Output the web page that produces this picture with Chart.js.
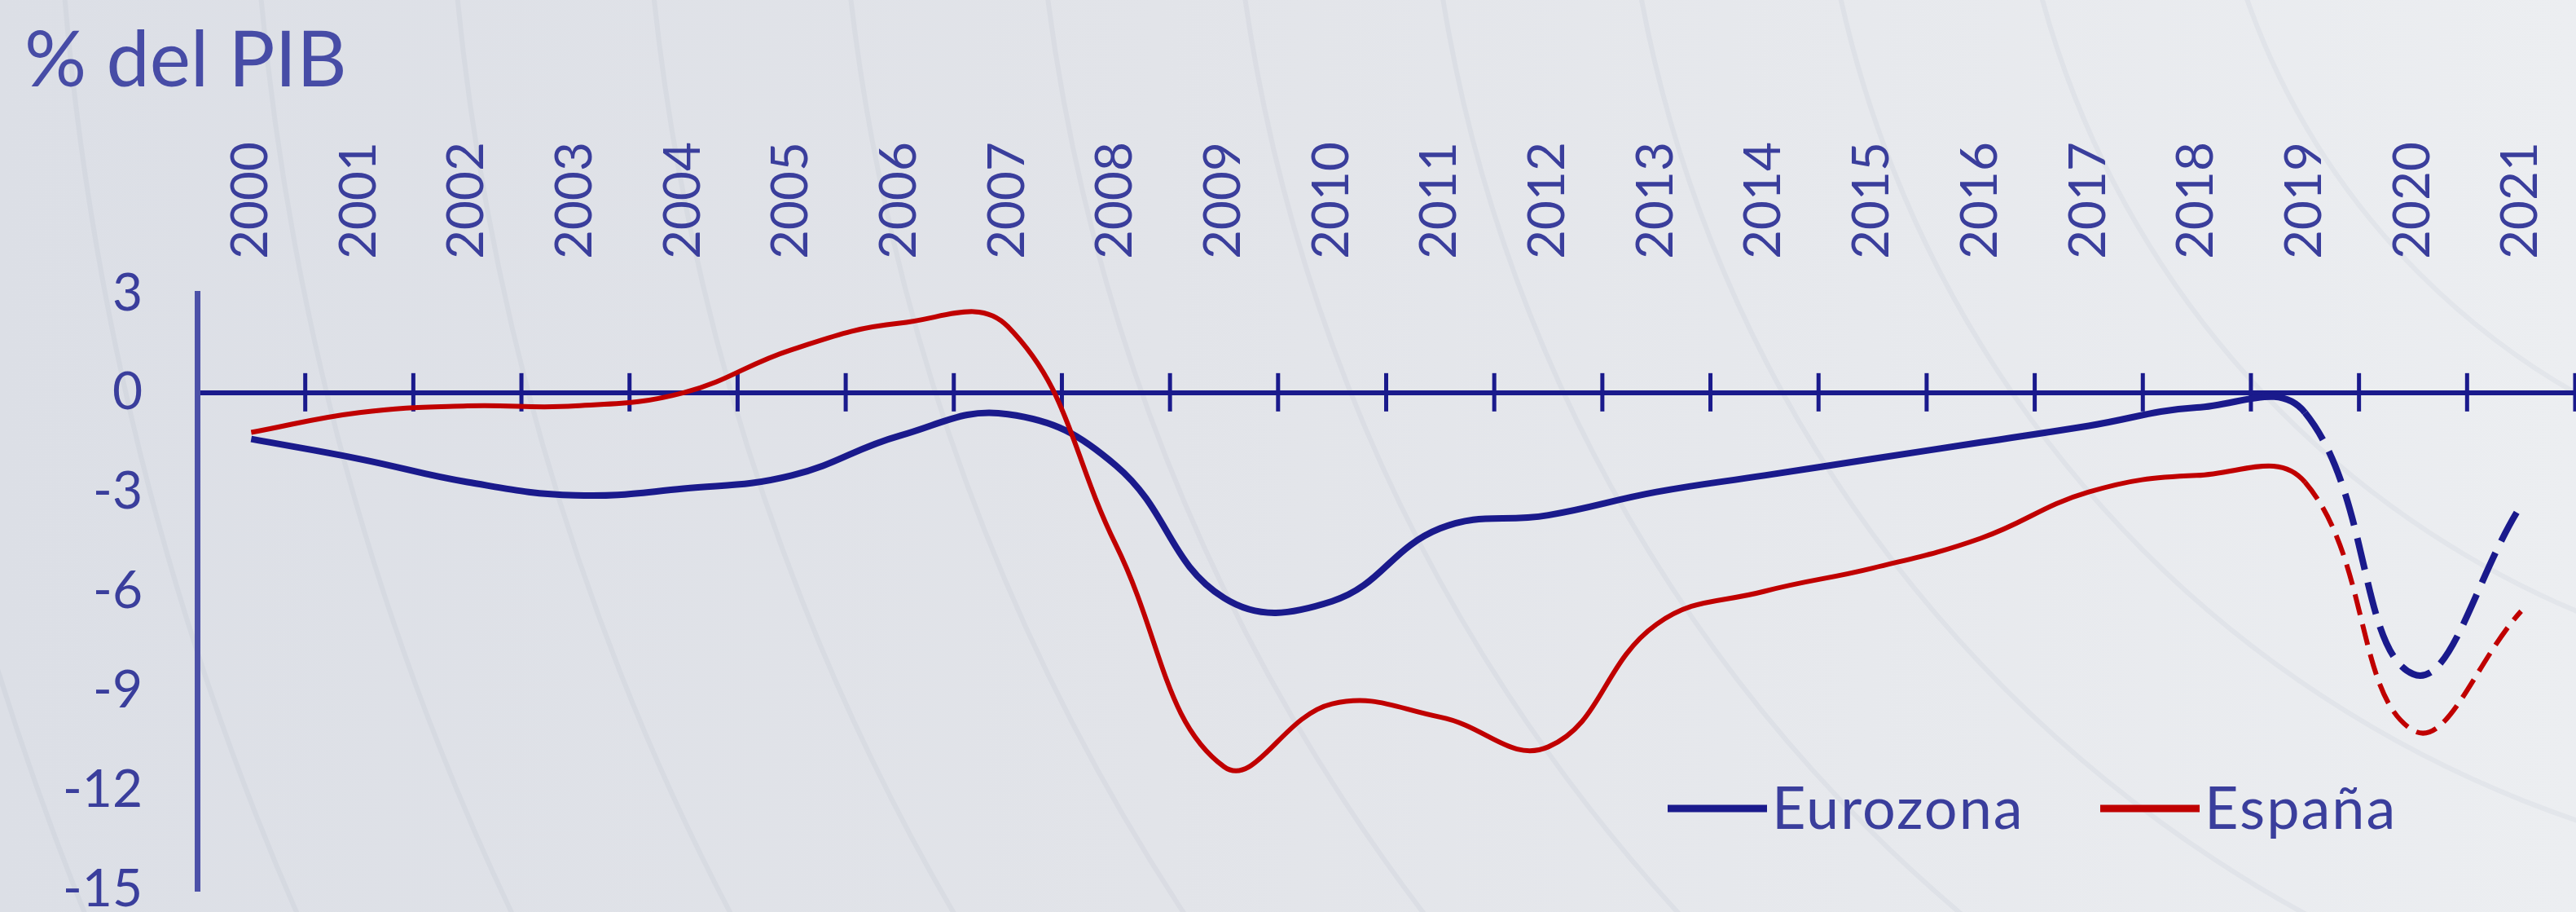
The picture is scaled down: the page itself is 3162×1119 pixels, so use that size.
<!DOCTYPE html>
<html lang="es">
<head>
  <meta charset="UTF-8">
  <title>Saldo público: Eurozona y España</title>
  <script src="https://cdn.jsdelivr.net/npm/chart.js"></script>
  <style>
    html, body {
      margin: 0;
      padding: 0;
    }
    body {
      width: 3162px;
      height: 1119px;
      overflow: hidden;
      background: #e3e5ea;
      font-family: Lato, "Open Sans", sans-serif;
    }
    .wrap {
      position: relative;
      width: 3162px;
      height: 1119px;
    }
    .unit {
      position: absolute;
      left: 30px;
      top: 22px;
      font-size: 95px;
      line-height: 1;
      color: #474ca6;
      z-index: 2;
    }
  </style>
</head>
<body>
  <div class="wrap">
    <div class="unit">% del PIB</div>
    <canvas id="deficitChart"></canvas>
  </div>

  <script>
    // Data
    const years = ['2000', '2001', '2002', '2003', '2004', '2005', '2006', '2007', '2008', '2009', '2010',
                   '2011', '2012', '2013', '2014', '2015', '2016', '2017', '2018', '2019', '2020', '2021'];
    const eurozona = [-1.4, -2.0, -2.7, -3.1, -2.9, -2.5, -1.3, -0.65, -2.2, -6.2, -6.3,
                      -4.1, -3.7, -3.0, -2.5, -2.0, -1.5, -1.0, -0.45, -0.6, -8.5, -3.4];
    const espana = [-1.2, -0.6, -0.4, -0.4, 0.0, 1.3, 2.1, 2.0, -4.6, -11.3, -9.4,
                    -9.8, -10.7, -7.0, -6.0, -5.3, -4.4, -3.0, -2.5, -2.7, -10.2, -6.6];
    const yTicks = [3, 0, -3, -6, -9, -12, -15];
    const forecastFrom = 19; // 2019 -> 2021 drawn dashed

    const navy = '#1a1a8c';
    const red = '#c00000';
    const textColor = '#3a3e9c';

    // slide background: soft gradient with faint arcs
    const slideBackground = {
      id: 'slideBackground',
      beforeDraw(chart) {
        const { ctx, width, height } = chart;
        ctx.save();
        const g = ctx.createLinearGradient(0, 0, width, 0);
        g.addColorStop(0, '#dcdfe6');
        g.addColorStop(0.45, '#e2e4e9');
        g.addColorStop(1, '#eceef1');
        ctx.fillStyle = g;
        ctx.fillRect(0, 0, width, height);
        ctx.strokeStyle = 'rgba(120, 130, 150, 0.07)';
        ctx.lineWidth = 6;
        for (let r = 900; r <= 4300; r += 240) {
          ctx.beginPath();
          ctx.arc(3607, -300, r, 0, Math.PI);
          ctx.stroke();
        }
        ctx.restore();
      }
    };

    // ticks crossing the zero line, at the category boundaries
    const zeroTicks = {
      id: 'zeroTicks',
      beforeDatasetsDraw(chart) {
        const xs = chart.scales.x, ys = chart.scales.y;
        const ctx = chart.ctx;
        const step = xs.getPixelForValue(1) - xs.getPixelForValue(0);
        const y0 = ys.getPixelForValue(0);
        ctx.save();
        ctx.strokeStyle = navy;
        ctx.lineWidth = 5;
        years.forEach((_, i) => {
          const x = xs.getPixelForValue(i) + step / 2;
          ctx.beginPath();
          ctx.moveTo(x, y0 - 24);
          ctx.lineTo(x, y0 + 23);
          ctx.stroke();
        });
        ctx.restore();
      }
    };

    // legend inside the plot, bottom right
    const lineLegend = {
      id: 'lineLegend',
      afterDraw(chart) {
        const ctx = chart.ctx;
        const spots = [2047, 2578];
        const y = 992;
        ctx.save();
        ctx.font = '72px Lato, sans-serif';
        ctx.letterSpacing = '2px';
        ctx.textBaseline = 'middle';
        ctx.fillStyle = textColor;
        chart.data.datasets.forEach((ds, i) => {
          const x = spots[i];
          ctx.strokeStyle = ds.borderColor;
          ctx.lineWidth = 9;
          ctx.beginPath();
          ctx.moveTo(x, y);
          ctx.lineTo(x + 122, y);
          ctx.stroke();
          ctx.fillText(ds.label, x + 128, y + 2);
        });
        ctx.restore();
      }
    };

    const ctx = document.getElementById('deficitChart').getContext('2d');
    const deficitChart = new Chart(ctx, {
      type: 'line',
      data: {
        labels: years,
        datasets: [
          {
            label: 'Eurozona',
            data: eurozona,
            borderColor: navy,
            borderWidth: 8,
            tension: 0.42,
            pointRadius: 0,
            order: 1,
            segment: {
              borderDash: c => c.p0DataIndex >= forecastFrom ? [40, 16] : undefined
            }
          },
          {
            label: 'España',
            data: espana,
            borderColor: red,
            borderWidth: 6,
            tension: 0.42,
            pointRadius: 0,
            order: 0,
            segment: {
              borderDash: c => c.p0DataIndex >= forecastFrom ? [26, 12] : undefined
            }
          }
        ]
      },
      options: {
        responsive: true,
        maintainAspectRatio: false,
        animation: false,
        layout: { padding: { top: 0, left: 0, right: 1, bottom: 28 } },
        plugins: {
          legend: { display: false },
          tooltip: { enabled: false }
        },
        scales: {
          x: {
            position: 'top',
            offset: true,
            grid: { display: false, drawTicks: false },
            border: { display: false },
            ticks: {
              autoSkip: false,
              minRotation: 90,
              maxRotation: 90,
              padding: 42,
              labelOffset: 74,
              color: textColor,
              font: { family: 'Lato', size: 62 }
            },
            afterFit: s => { s.height = 360; s.paddingLeft = 0; s.paddingRight = 0; }
          },
          y: {
            min: Math.min(...yTicks),
            max: Math.max(...yTicks),
            afterBuildTicks: s => { s.ticks = yTicks.map(v => ({ value: v })); },
            ticks: {
              padding: 67,
              color: textColor,
              font: { family: 'Lato', size: 64 },
              callback: v => String(v)
            },
            grid: {
              drawTicks: false,
              color: c => (c.tick && c.tick.value === 0) ? navy : 'transparent',
              lineWidth: 6
            },
            border: { color: '#4c51a8', width: 7 },
            afterFit: s => { s.width = 242; s.paddingTop = 0; s.paddingBottom = 0; }
          }
        }
      },
      plugins: [slideBackground, zeroTicks, lineLegend]
    });
  </script>
</body>
</html>
